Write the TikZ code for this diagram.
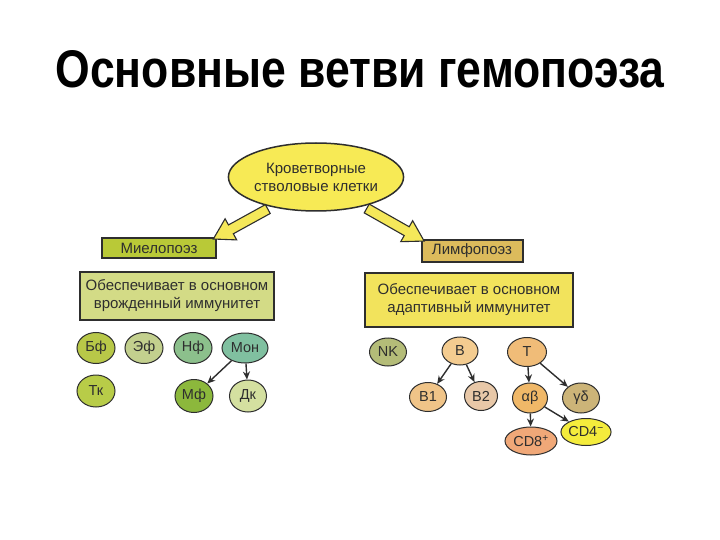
\documentclass[tikz,border=0pt]{standalone}
\usepackage{fontspec}
\setmainfont{Liberation Sans}
\newfontfamily\titlefont[FakeStretch=0.84]{Liberation Sans}
\usetikzlibrary{shapes.geometric,shapes.arrows,calc,arrows.meta}
\definecolor{ink}{HTML}{2E2E2E}
\definecolor{hscfill}{HTML}{F7EA55}
\definecolor{arrowfill}{HTML}{F5E85A}
\definecolor{mielofill}{HTML}{B9C937}
\definecolor{leftfill}{HTML}{D3DB86}
\definecolor{limfofill}{HTML}{DCBB5C}
\definecolor{rightfill}{HTML}{F2E35C}
\definecolor{cBf}{HTML}{B8C848}
\definecolor{cEf}{HTML}{C3D08E}
\definecolor{cNf}{HTML}{8CC08C}
\definecolor{cMon}{HTML}{80C0A0}
\definecolor{cTk}{HTML}{B8CC48}
\definecolor{cMf}{HTML}{8CB83C}
\definecolor{cDk}{HTML}{D4E0A0}
\definecolor{cNK}{HTML}{B4BC78}
\definecolor{cB}{HTML}{F4CC90}
\definecolor{cT}{HTML}{F0BC78}
\definecolor{cBa}{HTML}{F0C488}
\definecolor{cBb}{HTML}{E8C8A8}
\definecolor{cab}{HTML}{F0B868}
\definecolor{cgd}{HTML}{CCB478}
\definecolor{cCDe}{HTML}{F0A878}
\definecolor{cCDf}{HTML}{F4EC3C}
\tikzset{
  cell/.style={ellipse, draw=ink, line width=1pt, inner sep=0pt,
    minimum width=38pt, minimum height=31pt, font=\fontsize{14.5}{16}\selectfont, text=ink},
  labelbox/.style={rectangle, draw=ink, line width=2pt, inner sep=0pt,
    align=center, font=\fontsize{15}{18}\selectfont, text=ink},
  bigarrow/.style={single arrow, draw=ink, fill=arrowfill, line width=1.1pt,
    inner sep=4.5pt, single arrow head extend=7pt, single arrow tip angle=62,
    single arrow head indent=0pt, sloped, allow upside down, anchor=center},
  cellarrow/.style={draw=ink, line width=1.4pt, -{Stealth[length=8pt,width=7pt]}}
}
\begin{document}
\begin{tikzpicture}[x=1pt,y=-1pt]
\fill[white] (0,0) rectangle (720,540);
\useasboundingbox (0,0) rectangle (720,540);

\node[anchor=base, font=\titlefont\bfseries\fontsize{53}{60}\selectfont] (title) at (360,88) {Основные ветви гемопоэза};

\node[ellipse, draw=ink, line width=1.5pt, fill=hscfill, minimum width=142pt, minimum height=68pt,
  inner sep=0pt, align=center, font=\fontsize{15}{18}\selectfont, text=ink] (hsc) at (316,177)
  {Кроветворные\\стволовые клетки};

\node[labelbox, fill=mielofill, minimum width=114pt, minimum height=20pt] (mielo) at (159,248) {Миелопоэз};
\node[labelbox, fill=leftfill, minimum width=194pt, minimum height=48pt] (leftbox) at (177,296)
  {Обеспечивает в основном\\врожденный иммунитет};
\node[labelbox, fill=limfofill, minimum width=101pt, minimum height=22pt] (limfo) at (472,251) {Лимфопоэз};
\node[labelbox, fill=rightfill, minimum width=208pt, minimum height=54pt] (rightbox) at (469,300)
  {Обеспечивает в основном\\адаптивный иммунитет};

\path let \p1=($(mielo.north east)-(hsc.214)$), \n1={veclen(\x1,\y1)} in
  (hsc.214) -- node[bigarrow, minimum height=\n1] {} (mielo.north east);
\path let \p1=($(limfo.north west)-(hsc.328)$), \n1={veclen(\x1,\y1)} in
  (hsc.328) -- node[bigarrow, minimum height=\n1] {} (limfo.north west);

% myeloid cells
\node[cell, fill=cBf] (bf) at (96,348) {Бф};
\node[cell, fill=cEf] (ef) at (144,348) {Эф};
\node[cell, fill=cNf] (nf) at (193,348) {Нф};
\node[cell, fill=cMon, minimum width=46pt, minimum height=30pt] (mon) at (245,348) {Мон};
\node[cell, fill=cTk, minimum height=32pt] (tk) at (96,391) {Тк};
\node[cell, fill=cMf, minimum height=33pt] (mf) at (194,396) {Мф};
\node[cell, fill=cDk, minimum width=37pt, minimum height=32pt] (dk) at (248,396) {Дк};
\draw[cellarrow] (mon) -- (mf);
\draw[cellarrow] (mon) -- (dk);

% lymphoid cells
\node[cell, fill=cNK, minimum width=37pt, minimum height=28pt] (nk) at (388,352) {NK};
\node[cell, fill=cB, minimum width=36pt, minimum height=28pt] (b) at (460,351) {B};
\node[cell, fill=cT, minimum width=39pt, minimum height=29pt] (t) at (527,352) {T};
\node[cell, fill=cBa, minimum width=37pt, minimum height=29pt] (b1) at (428,397) {B1};
\node[cell, fill=cBb, minimum width=33pt, minimum height=29pt] (b2) at (481,396) {B2};
\node[cell, fill=cab, minimum width=35pt, minimum height=30pt] (ab) at (530,398) {αβ};
\node[cell, fill=cgd, minimum width=37pt, minimum height=30pt] (gd) at (581,398) {γδ};
\node[cell, fill=cCDe, minimum width=52pt, minimum height=28pt] (cd8) at (531,441) {CD8\textsuperscript{+}};
\node[cell, fill=cCDf, minimum width=47pt, minimum height=27pt] (cd4) at (586,432) {CD4\textsuperscript{−}};
\draw[cellarrow] (b) -- (b1);
\draw[cellarrow] (b) -- (b2);
\draw[cellarrow] (t) -- (ab);
\draw[cellarrow] (t) -- (gd);
\draw[cellarrow] (ab) -- (cd8);
\draw[cellarrow] (ab) -- (cd4);
\end{tikzpicture}
\end{document}
